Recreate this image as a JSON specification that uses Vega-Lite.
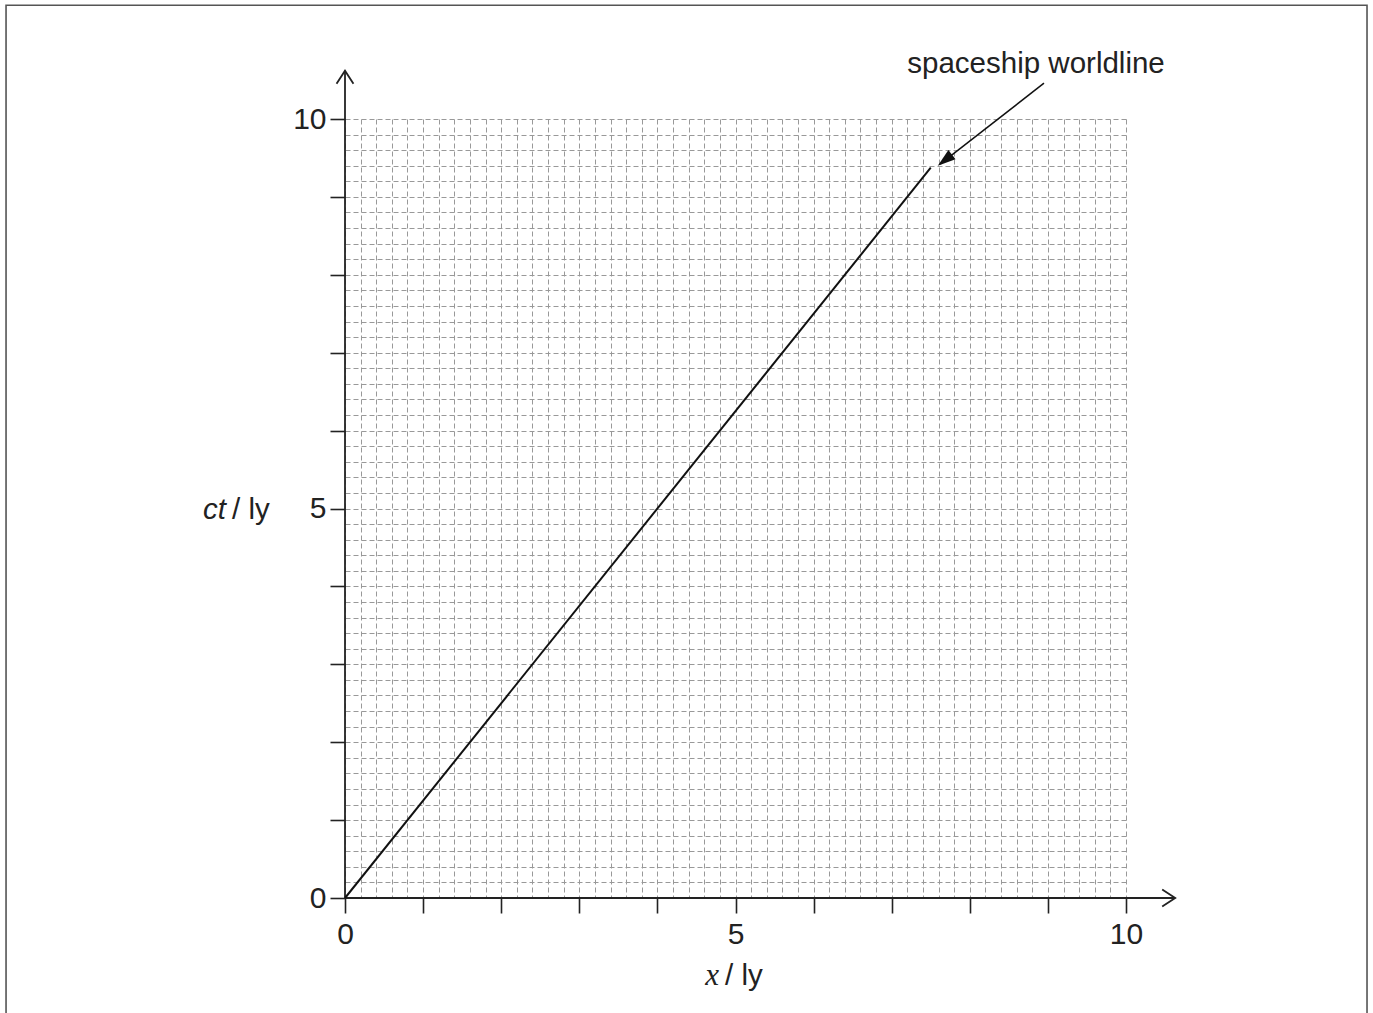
{
  "$schema": "https://vega.github.io/schema/vega-lite/v6.json",
  "width": 781,
  "height": 779,
  "autosize": {"type": "none"},
  "padding": {"left": 345, "top": 119, "right": 247, "bottom": 115},
  "background": "white",
  "config": {"view": {"stroke": null}},
  "encoding": {
    "x": {
      "field": "x", "type": "quantitative",
      "scale": {"domain": [0, 10], "nice": false, "zero": false},
      "axis": {
        "title": null,
        "values": [0,0.2,0.4,0.6,0.8,1,1.2,1.4,1.6,1.8,2,2.2,2.4,2.6,2.8,3,3.2,3.4,3.6,3.8,4,4.2,4.4,4.6,4.8,5,5.2,5.4,5.6,5.8,6,6.2,6.4,6.6,6.8,7,7.2,7.4,7.6,7.8,8,8.2,8.4,8.6,8.8,9,9.2,9.4,9.6,9.8,10],
        "grid": true, "gridColor": "#999999", "gridDash": [5, 3], "gridWidth": 1,
        "domain": false,
        "tickColor": "#222", "tickWidth": 1.6,
        "tickSize": {"condition": {"test": "datum.value % 1 === 0", "value": 15}, "value": 0},
        "labelExpr": "datum.value % 5 === 0 ? '' + datum.value : ''",
        "labelFont": "Liberation Sans", "labelFontSize": 30, "labelColor": "#222",
        "labelPadding": 6, "labelOverlap": false, "labelFlush": false, "labelBound": false
      }
    },
    "y": {
      "field": "y", "type": "quantitative",
      "scale": {"domain": [0, 10], "nice": false, "zero": false},
      "axis": {
        "title": null,
        "values": [0,0.2,0.4,0.6,0.8,1,1.2,1.4,1.6,1.8,2,2.2,2.4,2.6,2.8,3,3.2,3.4,3.6,3.8,4,4.2,4.4,4.6,4.8,5,5.2,5.4,5.6,5.8,6,6.2,6.4,6.6,6.8,7,7.2,7.4,7.6,7.8,8,8.2,8.4,8.6,8.8,9,9.2,9.4,9.6,9.8,10],
        "grid": true, "gridColor": "#999999", "gridDash": [5, 3], "gridWidth": 1,
        "domain": false,
        "tickColor": "#222", "tickWidth": 1.6,
        "tickSize": {"condition": {"test": "datum.value % 1 === 0", "value": 15}, "value": 0},
        "labelExpr": "datum.value % 5 === 0 ? '' + datum.value : ''",
        "labelFont": "Liberation Sans", "labelFontSize": 30, "labelColor": "#222",
        "labelPadding": 4, "labelOverlap": false, "labelFlush": false, "labelBound": false
      }
    }
  },
  "layer": [
    {
      "data": {"values": [{"x": -4.34, "y": -2.0, "x2": 13.086, "y2": 11.46}]},
      "mark": {"type": "rect", "fill": null, "stroke": "#555", "strokeWidth": 1.6},
      "encoding": {"x2": {"field": "x2"}, "y2": {"field": "y2"}}
    },
    {
      "data": {"values": [
        {"x": 0, "y": 0, "x2": 10.63, "y2": 0},
        {"x": 0, "y": 0, "x2": 0, "y2": 10.62}
      ]},
      "mark": {"type": "rule", "color": "#222", "strokeWidth": 1.8},
      "encoding": {"x2": {"field": "x2"}, "y2": {"field": "y2"}}
    },
    {
      "data": {"values": [{"x": 0, "y": 10.62}]},
      "mark": {"type": "point", "shape": "M -0.65 1 L 0 0 L 0.65 1", "size": 676, "filled": false, "stroke": "#222", "strokeWidth": 1.8, "opacity": 1}
    },
    {
      "data": {"values": [{"x": 10.63, "y": 0}]},
      "mark": {"type": "point", "shape": "M -0.65 1 L 0 0 L 0.65 1", "size": 676, "angle": 90, "filled": false, "stroke": "#222", "strokeWidth": 1.8, "opacity": 1}
    },
    {
      "data": {"values": [{"x": 0, "y": 0}, {"x": 7.5, "y": 9.375}]},
      "mark": {"type": "line", "color": "#111", "strokeWidth": 2}
    },
    {
      "data": {"values": [{"x": 8.95, "y": 10.46, "x2": 7.62, "y2": 9.42}]},
      "mark": {"type": "rule", "color": "#111", "strokeWidth": 1.5},
      "encoding": {"x2": {"field": "x2"}, "y2": {"field": "y2"}}
    },
    {
      "data": {"values": [{"x": 7.59, "y": 9.40}]},
      "mark": {"type": "point", "shape": "M 0 0 L -0.32 1 L 0.32 1 Z", "size": 1296, "angle": 232, "filled": true, "color": "#111", "opacity": 1}
    },
    {
      "data": {"values": [{"x": 8.848, "y": 10.59, "text": "spaceship worldline"}]},
      "mark": {"type": "text", "font": "Liberation Sans", "fontSize": 29.5, "align": "center", "baseline": "alphabetic", "color": "#222"},
      "encoding": {"text": {"field": "text"}}
    },
    {
      "data": {"values": [{"x": -1.524, "y": 4.865, "text": "ct"}]},
      "mark": {"type": "text", "font": "Liberation Sans", "fontSize": 29.5, "fontStyle": "italic", "align": "right", "baseline": "alphabetic", "color": "#222"},
      "encoding": {"text": {"field": "text"}}
    },
    {
      "data": {"values": [{"x": -1.447, "y": 4.865, "text": "/ ly"}, {"x": 4.866, "y": -1.117, "text": "/ ly"}]},
      "mark": {"type": "text", "font": "Liberation Sans", "fontSize": 29.5, "align": "left", "baseline": "alphabetic", "color": "#222"},
      "encoding": {"text": {"field": "text"}}
    },
    {
      "data": {"values": [{"x": 4.789, "y": -1.117, "text": "x"}]},
      "mark": {"type": "text", "font": "Liberation Serif", "fontSize": 31, "fontStyle": "italic", "align": "right", "baseline": "alphabetic", "color": "#222"},
      "encoding": {"text": {"field": "text"}}
    }
  ]
}
